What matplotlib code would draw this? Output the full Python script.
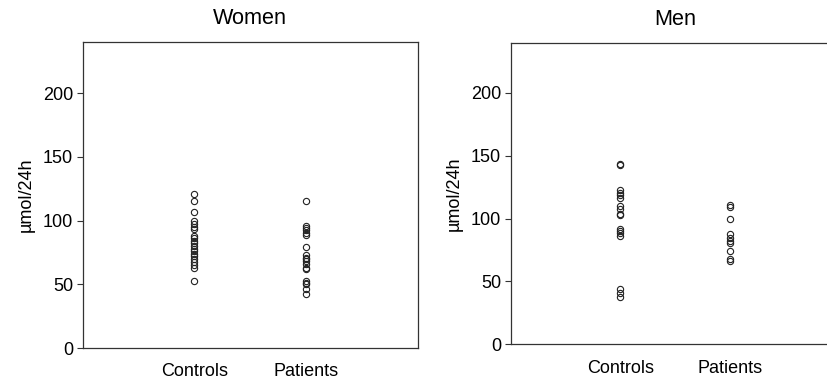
import matplotlib
matplotlib.use('Agg')
import matplotlib.pyplot as plt

plt.rcParams['font.family'] = ['Liberation Sans', 'DejaVu Sans']
plt.rcParams['font.size'] = 13

GROUPS = ['Controls', 'Patients']
Y_TICKS = [0, 50, 100, 150, 200]

# 女性
women_controls = [121, 115.5, 106.5, 100, 97.5, 95, 93, 88, 86, 84, 82, 80, 78,
                  76, 74, 72, 70, 67.5, 65, 62.5, 52.5]
women_patients = [115, 96, 94, 92.5, 90.5, 89, 79, 73, 71, 69.5, 68, 66, 63, 62,
                  52.5, 51, 50, 46, 42]
# 男性
men_controls = [143.5, 143, 122.5, 120.5, 118.5, 116, 110, 108, 104, 102.5, 92,
                90, 88.5, 86, 44, 41, 37.5]
men_patients = [111, 109, 99.5, 88, 84.5, 82.5, 80.5, 74.5, 68, 66.5]

PANELS = [
    ('Women', [women_controls, women_patients], [0.0999, 0.0842, 0.405, 0.805]),
    ('Men', [men_controls, men_patients], [0.617, 0.094, 0.397, 0.794]),
]

fig = plt.figure(figsize=(8.28, 3.8), dpi=100)
for title, series, rect in PANELS:
    ax = fig.add_axes(rect)
    for inx, values in enumerate(series):
        ax.plot([inx + 1] * len(values), values, linestyle='none', marker='o',
                markersize=4.5, markerfacecolor='none', markeredgecolor='#222222',
                markeredgewidth=0.8)
    ax.set_xlim(0, 3)
    ax.set_ylim(0, 240)
    ax.set_xticks([1, 2])
    ax.set_xticklabels(GROUPS)
    ax.set_yticks(Y_TICKS)
    ax.tick_params(axis='x', length=0, pad=11)
    ax.tick_params(axis='y', length=4, width=0.8, pad=3, color='#333333')
    for sp in ax.spines.values():
        sp.set_linewidth(0.9)
        sp.set_color('#333333')
    ax.set_ylabel('µmol/24h', labelpad=6)
    ax.set_title(title, pad=13)

plt.savefig('out.png', dpi=100)
plt.close()
